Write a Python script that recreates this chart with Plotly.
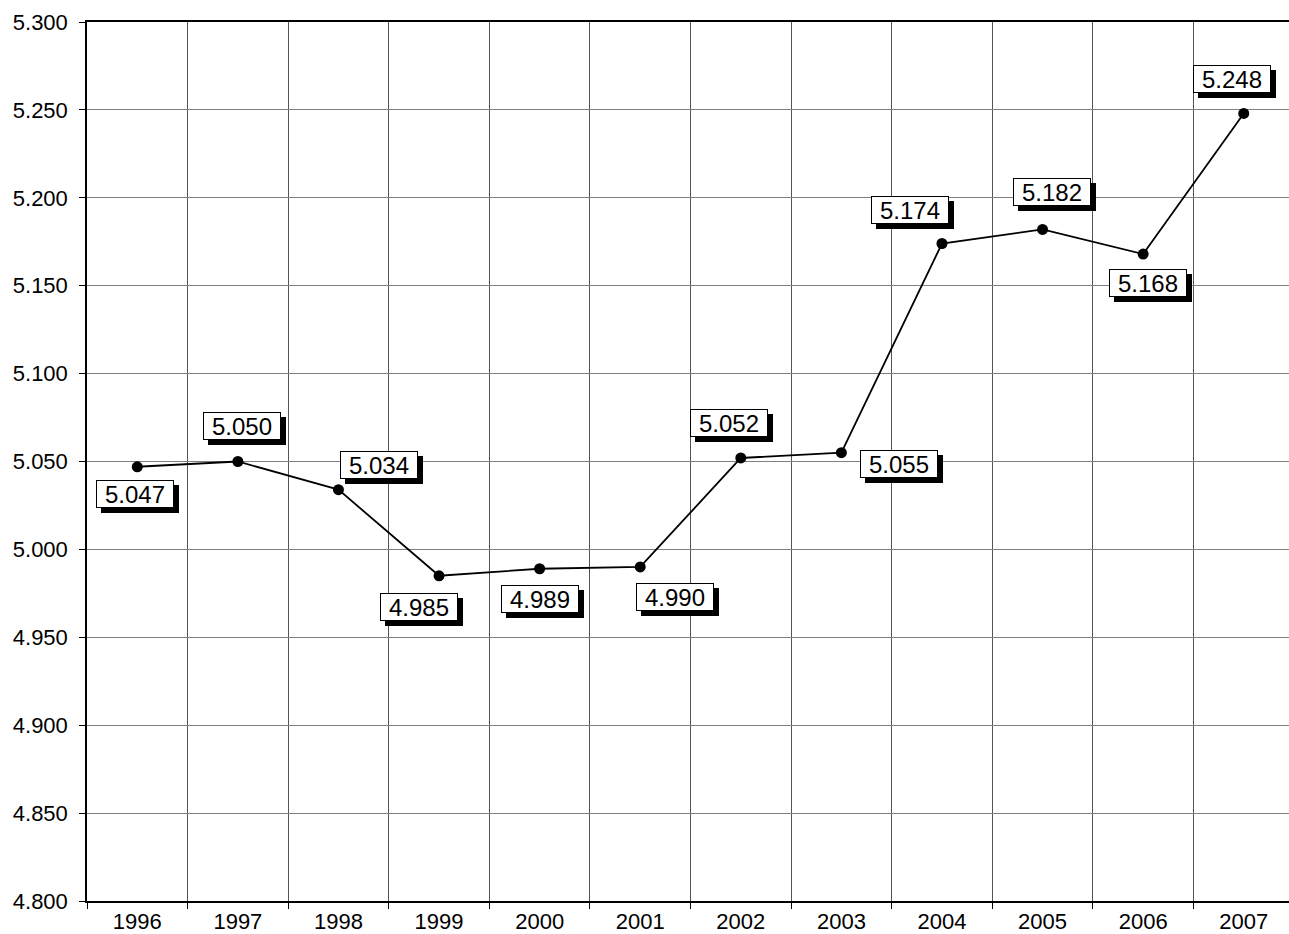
import plotly.graph_objects as go

years = ["1996", "1997", "1998", "1999", "2000", "2001", "2002", "2003", "2004", "2005", "2006", "2007"]
values = [5.047, 5.050, 5.034, 4.985, 4.989, 4.990, 5.052, 5.055, 5.174, 5.182, 5.168, 5.248]

# label offsets (pixels) relative to each point
label_dx = [-2, 4, 41, -20, 0, 35, -12, 58, -32, 9, 5, -12]
label_dy = [-27, 36, 25, -31, -30, -30, 35, -11, 34, 37, -29, 34]

FONT = "Liberation Sans, Arial, sans-serif"

fig = go.Figure()
fig.add_trace(go.Scatter(
    x=years, y=values, mode="lines+markers",
    line=dict(color="black", width=1.8),
    marker=dict(color="black", size=11),
    showlegend=False, hoverinfo="skip",
))

for i, (v, dx, dy) in enumerate(zip(values, label_dx, label_dy)):
    txt = f"{v:.3f}"
    fig.add_annotation(
        x=i, y=v, xref="x", yref="y", text=txt, showarrow=False,
        xshift=dx + 5, yshift=dy - 5, width=76, height=26,
        bgcolor="black", bordercolor="black", borderwidth=1, borderpad=0,
        font=dict(family=FONT, size=24, color="black"),
    )
    fig.add_annotation(
        x=i, y=v, xref="x", yref="y", text=txt, showarrow=False,
        xshift=dx, yshift=dy, width=76, height=26,
        bgcolor="white", bordercolor="black", borderwidth=1, borderpad=0,
        font=dict(family=FONT, size=24, color="black"),
    )

fig.update_layout(
    width=1289, height=934,
    margin=dict(l=87, r=0, t=22, b=30),
    paper_bgcolor="white", plot_bgcolor="white",
    font=dict(family=FONT, size=22, color="black"),
    xaxis=dict(
        type="category", categoryorder="array", categoryarray=years,
        range=[-0.5, 11.45], tickson="boundaries",
        showgrid=True, gridcolor="#555555", gridwidth=1,
        showline=True, linecolor="black", linewidth=1.5, mirror=True,
        ticks="outside", ticklen=6, tickcolor="black",
        tickfont=dict(family=FONT, size=22, color="black"),
        fixedrange=True,
    ),
    yaxis=dict(
        range=[4.8, 5.3], dtick=0.05, tick0=4.8, tickformat=".3f",
        showgrid=True, gridcolor="#808080", gridwidth=1,
        showline=True, linecolor="black", linewidth=1.5,
        ticks="outside", ticklen=6, tickcolor="black", ticklabelstandoff=7,
        tickfont=dict(family=FONT, size=22, color="black"),
        zeroline=False, fixedrange=True,
    ),
)

fig.write_html("out.html", config={"displayModeBar": False},
               post_script="document.body.style.margin='0';")
